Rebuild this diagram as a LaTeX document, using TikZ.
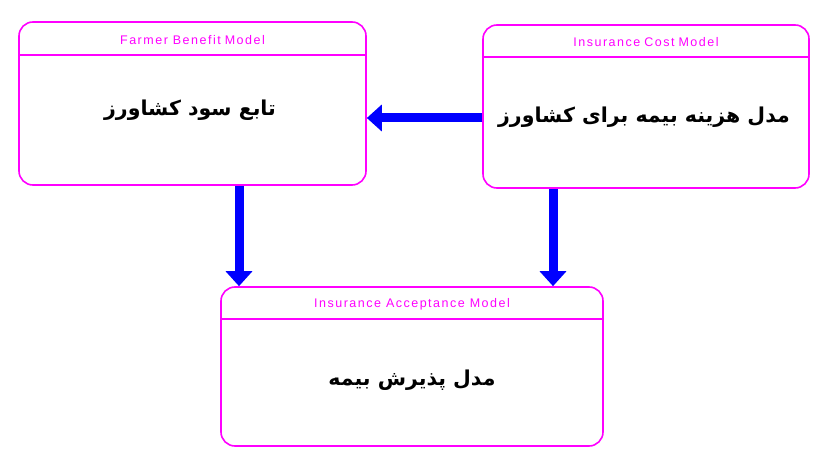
\documentclass[tikz,border=0pt]{standalone}
\usepackage{fontspec}
\setmainfont{Liberation Sans}
\newfontfamily\arabicfont[Script=Arabic]{DejaVu Sans}
\newfontfamily\hdrfont[LetterSpace=12]{Liberation Sans}
\TeXXeTstate=1
\usetikzlibrary{arrows.meta,calc}
\definecolor{mag}{RGB}{255,0,255}
\definecolor{arrblue}{RGB}{0,0,255}
\tikzset{
  modelbox/.style={draw=mag, line width=1.6pt, rounded corners=14pt, fill=white, inner sep=0pt},
  hdr/.style={text=mag, font=\hdrfont\fontsize{12.5}{14}\selectfont, inner sep=0pt},
  body/.style={font=\arabicfont\bfseries\fontsize{20.5}{24}\selectfont, inner sep=0pt},
  hline/.style={draw=mag, line width=1.6pt},
  arr/.style={draw=arrblue, line width=9pt, -{Triangle[width=26pt,length=15pt]}}
}
\newcommand{\gap}{\hspace{4pt}}
\begin{document}
\begin{tikzpicture}[x=1pt,y=1pt]
\useasboundingbox[fill=white] (0,0) rectangle (813,450);
% boxes
\node[modelbox, minimum width=347pt, minimum height=163pt] (b1) at (192.5,346.5) {};
\node[modelbox, minimum width=326pt, minimum height=163pt] (b2) at (646,343.5) {};
\node[modelbox, minimum width=382pt, minimum height=159pt] (b3) at (412,83.5) {};
% header lines
\draw[hline] ([yshift=-34pt]b1.north west) -- ([yshift=-34pt]b1.north east);
\draw[hline] ([yshift=-33pt]b2.north west) -- ([yshift=-33pt]b2.north east);
\draw[hline] ([yshift=-33pt]b3.north west) -- ([yshift=-33pt]b3.north east);
% header texts
\node[hdr] (t1) at ([yshift=-19pt]b1.north) {Farmer Benefit\gap Model};
\node[hdr] (t2) at ([yshift=-18pt]b2.north) {Insurance\gap Cost\gap Model};
\node[hdr] (t3) at ([yshift=-18pt]b3.north) {Insurance Acceptance Model};
% body texts
\node[body] (p1) at (190,340) {\beginR تابع سود کشاورز\endR};
\node[body] (p2) at (644,333) {\beginR مدل هزینه بیمه برای کشاورز\endR};
\node[body] (p3) at (412,70) {\beginR مدل پذیرش بیمه\endR};
% arrows
\coordinate (hy) at (0,332);
\coordinate (v1) at (239,0);
\coordinate (v2) at (553,0);
\draw[arr] (b2.west |- hy) -- (b1.east |- hy);
\draw[arr] (v1 |- b1.south) -- (v1 |- b3.north);
\draw[arr] (v2 |- b2.south) -- (v2 |- b3.north);
\end{tikzpicture}
\end{document}
